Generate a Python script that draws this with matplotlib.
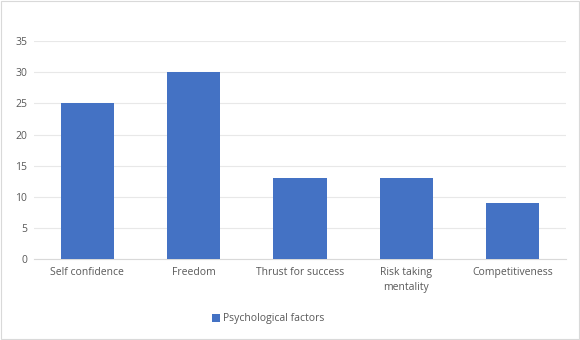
import matplotlib.pyplot as plt
from matplotlib.patches import Rectangle

categories = ['Self confidence', 'Freedom', 'Thrust for success', 'Risk taking\nmentality', 'Competitiveness']
values = [25, 30, 13, 13, 9]
series_name = 'Psychological factors'

bar_color = '#4472C4'
text_color = '#595959'
fontsize = 7.5

plt.rcParams['font.family'] = ['Open Sans', 'DejaVu Sans']

fig = plt.figure(figsize=(5.8, 3.4), dpi=100)
ax = fig.add_axes([0.0586, 0.238, 0.917, 0.641])

x = list(range(len(categories)))
ax.bar(x, values, width=0.5, color=bar_color, label=series_name, zorder=3)

ax.set_xlim(-0.5, len(categories) - 0.5)
ax.set_ylim(0, 35)
ax.set_yticks(range(0, 36, 5))
ax.set_xticks(x)
ax.set_xticklabels(categories, fontsize=fontsize, color=text_color, linespacing=1.5)
ax.tick_params(axis='y', labelsize=fontsize, labelcolor=text_color, length=0, pad=5)
ax.tick_params(axis='x', length=0, pad=6)
ax.grid(axis='y', color='#E8E8E8', linewidth=0.8, zorder=0)
for s in ['top', 'right', 'left']:
    ax.spines[s].set_visible(False)
ax.spines['bottom'].set_color('#D9D9D9')
ax.spines['bottom'].set_linewidth(0.8)

leg = fig.legend(loc='center', bbox_to_anchor=(0.462, 0.062), frameon=False,
                 fontsize=fontsize, handlelength=0.8, handleheight=0.8, handletextpad=0.3)
for t in leg.get_texts():
    t.set_color(text_color)

fig.patches.append(Rectangle((0.002, 0.003), 0.996, 0.994, transform=fig.transFigure,
                             fill=False, edgecolor='#D9D9D9', linewidth=0.8))

plt.savefig('out.png', dpi=100)
